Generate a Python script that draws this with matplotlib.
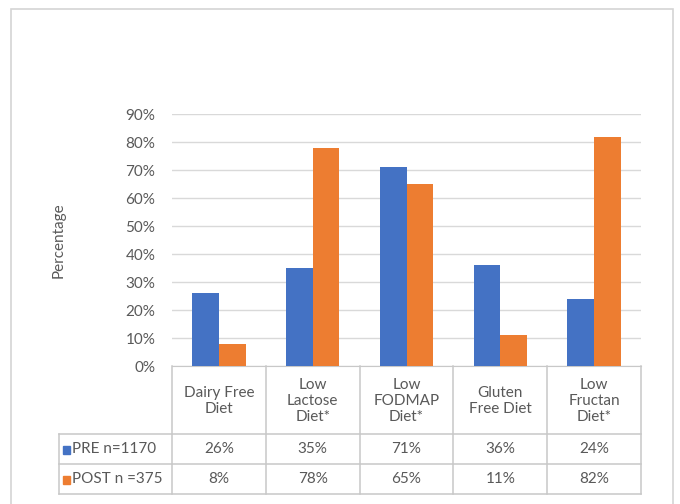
import matplotlib
matplotlib.use("Agg")
import matplotlib.pyplot as plt
from matplotlib.patches import Rectangle

# Data
categories = ["Dairy Free\nDiet", "Low\nLactose\nDiet*", "Low\nFODMAP\nDiet*", "Gluten\nFree Diet", "Low\nFructan\nDiet*"]
pre_values = [26, 35, 71, 36, 24]
post_values = [8, 78, 65, 11, 82]
series_labels = ["PRE n=1170", "POST n =375"]
y_ticks = [0, 10, 20, 30, 40, 50, 60, 70, 80, 90]

BLUE = "#4472C4"
ORANGE = "#ED7D31"
TEXT = "#595959"
GRID = "#d9d9d9"
BORDER = "#c8c8c8"
FS = 11

plt.rcParams["font.family"] = ["Lato", "DejaVu Sans"]

W, H = 680, 504
fig = plt.figure(figsize=(W / 100, H / 100), dpi=100)

def fx(px):
    return px / W

def fy(py):
    return 1 - py / H

# outer chart frame
fig.patches.append(Rectangle((fx(11), fy(520)), fx(673) - fx(11), fy(9.5) - fy(520),
                             transform=fig.transFigure, fill=False,
                             edgecolor="#d4d4d4", linewidth=1.2))

# main plot area
x0, x1 = 172, 641
y0, y1 = 366, 114.3
ax = fig.add_axes([fx(x0), fy(y0), fx(x1) - fx(x0), fy(y1) - fy(y0)])
n = len(categories)
xs = list(range(n))
bw = 0.285
ax.bar([x - bw / 2 for x in xs], pre_values, width=bw, color=BLUE, zorder=3)
ax.bar([x + bw / 2 for x in xs], post_values, width=bw, color=ORANGE, zorder=3)
ax.set_xlim(-0.5, n - 0.5)
ax.set_ylim(0, 90)
ax.set_yticks(y_ticks)
ax.set_yticklabels([f"{t}%" for t in y_ticks], fontsize=FS, color=TEXT)
ax.tick_params(axis="y", length=0, pad=12)
ax.set_xticks([])
ax.grid(axis="y", color=GRID, linewidth=1, zorder=0)
for s in ["top", "right", "left"]:
    ax.spines[s].set_visible(False)
ax.spines["bottom"].set_color(BORDER)
ax.set_ylabel("Percentage", fontsize=FS, color=TEXT)
ax.yaxis.set_label_coords((66 - x0) / (x1 - x0), (y0 - 240) / (y0 - y1))

# data table beneath the plot
t_left_px, t_top, t_bottom = 59.5, 366, 494
unit = (x1 - x0) / n
t_xmin = -0.5 - (x0 - t_left_px) / unit
tab = fig.add_axes([fx(t_left_px), fy(t_bottom), fx(x1) - fx(t_left_px), fy(t_top) - fy(t_bottom)])
tab.set_xlim(t_xmin, n - 0.5)
tab.set_ylim(t_bottom - t_top, 0)
tab.axis("off")

header_h = 68
row_h = 30
rows_y = [0, header_h, header_h + row_h, header_h + 2 * row_h]
lw = 1.1
for i in range(n + 1):
    tab.plot([-0.5 + i, -0.5 + i], [0, rows_y[-1]], color=BORDER, lw=lw, clip_on=False)
tab.plot([t_xmin, t_xmin], [rows_y[1], rows_y[-1]], color=BORDER, lw=lw, clip_on=False)
for yv in rows_y[1:]:
    tab.plot([t_xmin, n - 0.5], [yv, yv], color=BORDER, lw=lw, clip_on=False)

for i, cat in enumerate(categories):
    tab.text(i, header_h / 2 + 1, cat, ha="center", va="center", fontsize=FS,
             color=TEXT, linespacing=1.2)

for r, (vals, lab, col) in enumerate(zip([pre_values, post_values], series_labels, [BLUE, ORANGE])):
    yc = header_h + row_h * r + row_h / 2
    for i, v in enumerate(vals):
        tab.text(i, yc, f"{v}%", ha="center", va="center", fontsize=FS, color=TEXT)
    sq = 7.5 / unit
    tab.add_patch(Rectangle((t_xmin + 3.5 / unit, yc - 3.5), sq, 8, color=col, clip_on=False))
    tab.text(t_xmin + 12.5 / unit, yc, lab, ha="left", va="center", fontsize=FS, color=TEXT)

fig.savefig("out.png", dpi=100)
